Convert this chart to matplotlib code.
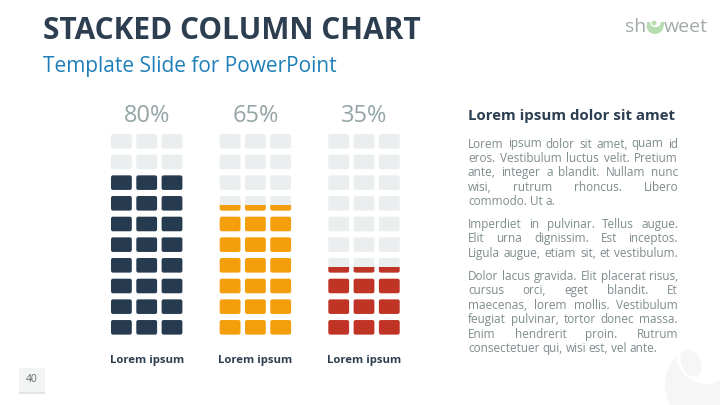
#!/usr/bin/env python3
"""Stacked column template slide, drawn in pixel coordinates"""

import matplotlib
matplotlib.use('Agg')
import matplotlib.pyplot as plt
from matplotlib.patches import FancyBboxPatch, Rectangle, Circle, Wedge, Ellipse

plt.rcParams['font.family'] = ['Open Sans', 'DejaVu Sans']

# Chart data
percents = [80, 65, 35]
labels = ['Lorem ipsum', 'Lorem ipsum', 'Lorem ipsum']
colors = ['#263b50', '#f59e0b', '#c03426']
rows_total = 10

title = 'STACKED COLUMN CHART'
subtitle = 'Template Slide for PowerPoint'
side_heading = 'Lorem ipsum dolor sit amet'
paragraphs = [
    ['Lorem ipsum dolor sit amet, quam id',
     'eros. Vestibulum luctus velit. Pretium',
     'ante, integer a blandit. Nullam nunc',
     'wisi, rutrum rhoncus. Libero',
     'commodo. Ut a.'],
    ['Imperdiet in pulvinar. Tellus augue.',
     'Elit urna dignissim. Est inceptos.',
     'Ligula augue, etiam sit, et vestibulum.'],
    ['Dolor lacus gravida. Elit placerat risus,',
     'cursus orci, eget blandit. Et',
     'maecenas, lorem mollis. Vestibulum',
     'feugiat pulvinar, tortor donec massa.',
     'Enim hendrerit proin. Rutrum',
     'consectetuer qui, wisi est, vel ante.'],
]
para_tops = [144, 224.5, 276.5]

# Layout
col_left = [111, 219.7, 328.3]
cell_w = 20.8
cell_h = 14.6
cell_dx = 25.3
top_y = 134
row_dy = 20.67
empty_color = '#ebeeef'
text_grey = '#7f8c8d'
watermark = '#f6f6f6'

fig = plt.figure(figsize=(7.2, 4.05), dpi=100)
ax = fig.add_axes([0, 0, 1, 1])
ax.set_xlim(0, 720)
ax.set_ylim(405, 0)
ax.axis('off')


def cell(x, y, color, clip_from=None):
    box = FancyBboxPatch((x + 1.6, y + 1.6), cell_w - 3.2, cell_h - 3.2,
                         boxstyle='round,pad=1.6,rounding_size=2',
                         fc=color, ec='none', zorder=3)
    ax.add_patch(box)
    if clip_from is not None:
        clip = Rectangle((x - 1, clip_from), cell_w + 2, cell_h + 2,
                         transform=ax.transData)
        box.set_clip_path(clip)


def justified(line, y, x0, x1, fill=True, **kw):
    # place word by word so both edges line up like the slide text
    words = line.split()
    r = fig.canvas.get_renderer()
    items = [ax.text(x0, y, w, ha='left', va='center', **kw) for w in words]
    widths = [t.get_window_extent(r).width for t in items]
    if fill and len(words) > 1:
        gap = (x1 - x0 - sum(widths)) / (len(words) - 1)
    else:
        gap = 2.9
    x = x0
    for t, w in zip(items, widths):
        t.set_x(x)
        x += w + gap


# Columns
for left, pct, color, label in zip(col_left, percents, colors, labels):
    filled = pct / 100 * rows_total
    for row in range(rows_total):
        y = top_y + row * row_dy
        from_bottom = rows_total - row
        for c in range(3):
            x = left + c * cell_dx
            if from_bottom <= filled:
                cell(x, y, color)
            else:
                cell(x, y, empty_color)
                part = filled - (from_bottom - 1)
                if part > 0:
                    cell(x, y, color, clip_from=y + cell_h * (1 - part) + 1.2)
    cx = left + cell_dx + cell_w / 2
    ax.text(cx, 116, f'{pct}%', ha='center', va='center', fontsize=17, color='#95a5a6')
    ax.text(cx, 360.5, label, ha='center', va='center', fontsize=8.2,
            fontweight='bold', color='#2c3e50')

# Header
ax.text(43, 31, title, ha='left', va='center', fontsize=21.5, fontweight='bold', color='#2c3e50')
ax.text(43, 66.5, subtitle, ha='left', va='center', fontsize=15, color='#1f7fb8')

# Side text
ax.text(468, 116, side_heading, ha='left', va='center', fontsize=10.8,
        fontweight='bold', color='#2c3e50')
fig.canvas.draw()
line_dy = 14.4
for lines, y0 in zip(paragraphs, para_tops):
    for i, line in enumerate(lines):
        is_last = i == len(lines) - 1
        justified(line, y0 + i * line_dy, 468, 678, fill=not is_last or len(lines) == 3,
                  fontsize=8.5, color=text_grey)

# Logo
ax.text(625, 27, 'sh', ha='left', va='center', fontsize=14, color='#a3abaa')
ax.text(664, 27, 'weet', ha='left', va='center', fontsize=14, color='#a3abaa')
ax.add_patch(Wedge((655, 25.5), 8.5, 0, 180, fc='#b7dcb0', ec='none'))
ax.add_patch(Rectangle((646.5, 22), 17, 3.5, fc='#b7dcb0', ec='none'))
ax.add_patch(Ellipse((655.5, 23.5), 10.5, 7, fc='white', ec='none'))
ax.add_patch(Circle((654, 23), 2.4, fc='#b7dcb0', ec='none'))

# Page number
ax.add_patch(Rectangle((19, 368), 26, 26, fc='#f3f4f4', ec='none'))
ax.add_patch(Rectangle((19, 391.5), 26, 2.5, fc='#e2e5e5', ec='none'))
ax.text(32, 380, '40', ha='center', va='center', fontsize=7.5, color='#5f6b6d')

# Watermark
ax.add_patch(Circle((708, 385), 43, fc=watermark, ec='none', zorder=0))
ax.add_patch(Ellipse((706, 350), 62, 68, fc='white', ec='none', zorder=1))
ax.add_patch(Ellipse((691, 363), 19, 29, angle=-25, fc=watermark, ec='none', zorder=2))

fig.savefig('out.png', dpi=100)
